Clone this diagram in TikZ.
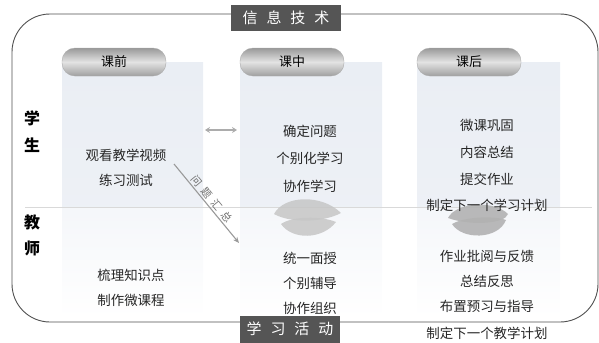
\documentclass[tikz,border=0pt]{standalone}
\usepackage{fontspec}
\newfontfamily\cjk{Noto Sans CJK SC}
\usetikzlibrary{arrows.meta}
\definecolor{txt}{HTML}{262626}
\definecolor{banner}{HTML}{555555}
\definecolor{panel}{HTML}{EAEEF4}
\definecolor{frame}{HTML}{505050}
\begin{document}
\begin{tikzpicture}[x=1bp,y=-1bp,
  every node/.style={font=\cjk\fontsize{13.5}{16}\selectfont, text=txt, inner sep=0pt},
  item/.style={anchor=center},
  rowlab/.style={font=\cjk\bfseries\fontsize{16}{18}\selectfont, text=black},
  bannerbox/.style={fill=banner, text=white, minimum width=110bp, minimum height=26bp,
     font=\cjk\fontsize{15}{17}\selectfont},
  tabpill/.style={rounded corners=13bp, top color=gray!80, bottom color=gray!75,
     middle color=gray!22, draw=gray!65, minimum width=104bp, minimum height=28bp,
     font=\cjk\fontsize{13}{15}\selectfont, text=black},
  blobA/.style={fill=gray!45, opacity=0.85},
  blobB/.style={fill=gray!60, opacity=0.9},
  conn/.style={draw=gray!80, line width=1.1bp, -{Stealth[length=6bp,width=5bp]}}
]
\useasboundingbox (0,0) rectangle (599,342);
% outer frame
\draw[frame, line width=0.9bp, rounded corners=38bp] (12,14) rectangle (598,322);
% panels
\fill[top color=panel, bottom color=panel!85] (62,62) rectangle (203,207);
\fill[top color=panel, bottom color=panel!85] (240,62) rectangle (382,207);
\fill[top color=panel, bottom color=panel!85] (417,62) rectangle (560,207);
\fill[top color=panel!50, bottom color=white] (62,207) rectangle (203,318);
\fill[top color=panel!50, bottom color=white] (240,207) rectangle (382,318);
\fill[top color=panel!50, bottom color=white] (417,207) rectangle (560,318);
% divider
\draw[gray!30, line width=0.8bp] (25,207) -- (592,207);
% banners
\node[bannerbox] (top) at (286,18) {信\hspace{0.6em}息\hspace{0.6em}技\hspace{0.6em}术};
\node[bannerbox, minimum width=100bp, minimum height=27bp] (bot) at (290,329) {学\hspace{0.6em}习\hspace{0.6em}活\hspace{0.6em}动};
% tabs
\node[tabpill] (t1) at (114,62) {课前};
\node[tabpill] (t2) at (292,62) {课中};
\node[tabpill] (t3) at (469,62) {课后};
% row labels
\node[rowlab] (xue) at (32,118) {学};
\node[rowlab] (sheng) at (32,145) {生};
\node[rowlab] (jiao) at (32,222) {教};
\node[rowlab] (shi) at (32,248) {师};
% blobs
\fill[blobA] (274,214) .. controls (284,195) and (322,194) .. (341,213) .. controls (322,223) and (290,223) .. (274,214);
\fill[blobA] (281,224) .. controls (292,216) and (322,216) .. (336,222) .. controls (322,240) and (292,240) .. (281,224);
\fill[blobB] (448,218) .. controls (456,202) and (494,200) .. (508,214) .. controls (505,224) and (470,226) .. (448,218);
\fill[blobB] (452,224) .. controls (466,216) and (496,216) .. (506,220) .. controls (498,240) and (462,240) .. (452,224);
% column 1
\node[item] (c1a) at (126,155) {观看教学视频};
\node[item] (c1b) at (126,180) {练习测试};
\node[item] (c1c) at (131,275) {梳理知识点};
\node[item] (c1d) at (131,300) {制作微课程};
% column 2
\node[item] (c2a) at (310,131) {确定问题};
\node[item] (c2b) at (310,158) {个别化学习};
\node[item] (c2c) at (310,186) {协作学习};
\node[item] (c2d) at (310,258) {统一面授};
\node[item] (c2e) at (310,283) {个别辅导};
\node[item] (c2f) at (310,308) {协作组织};
% column 3
\node[item] (c3a) at (487,125) {微课巩固};
\node[item] (c3b) at (487,152) {内容总结};
\node[item] (c3c) at (487,179) {提交作业};
\node[item] (c3d) at (487,205) {制定下一个学习计划};
\node[item] (c3e) at (487,256) {作业批阅与反馈};
\node[item] (c3f) at (487,281) {总结反思};
\node[item] (c3g) at (487,306) {布置预习与指导};
\node[item] (c3h) at (487,333) {制定下一个教学计划};
% arrows
\coordinate (da) at (205,130);
\coordinate (db) at (237,130);
\draw[draw=gray!65, line width=1.6bp, {Stealth[length=5bp,width=6bp]}-{Stealth[length=5bp,width=6bp]}] (da) -- (db);
\coordinate (qs) at (174,164);
\coordinate (qe) at (239,243);
\draw[conn] (qs) -- node[sloped, above=2bp, font=\cjk\fontsize{10.5}{12}\selectfont, text=gray!85!black] (lbl) {问\hspace{0.5em}题\hspace{0.5em}汇\hspace{0.5em}总} (qe);
\end{tikzpicture}
\end{document}
